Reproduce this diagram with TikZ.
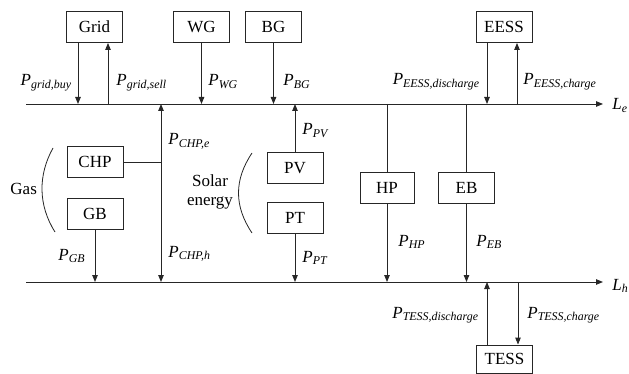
\documentclass[tikz,border=0pt]{standalone}
\usepackage{fontspec}
\setmainfont{Liberation Serif}
\usetikzlibrary{arrows.meta}
\tikzset{
  unit/.style={draw, minimum width=56pt, minimum height=31pt, inner sep=0pt},
  flow/.style={inner sep=0pt, font=\fontsize{17}{15}\selectfont\itshape},
}
\newcommand{\Pfl}[1]{P\textsubscript{#1}}

\begin{document}
\begin{tikzpicture}[x=1pt,y=-1pt,line width=0.9pt,draw=black!85,
    >={Triangle[length=7pt,width=5.5pt]},font=\fontsize{17}{15}\selectfont]
    \useasboundingbox (0,0) rectangle (629,374);
    %Buses
    \coordinate (le0) at (26,104);
    \coordinate (le1) at (603,104);
    \coordinate (lh0) at (26,282);
    \coordinate (lh1) at (603,282);
    \draw [->] (le0) -- (le1);
    \draw [->] (lh0) -- (lh1);
    \node (le) [flow, anchor=base west] at (612,110) {L\textsubscript{e}};
    \node (lh) [flow, anchor=base west] at (612,290) {L\textsubscript{h}};

    %Units
    \node (grid) [unit] at (94.5,27) {Grid};
    \node (wg) [unit] at (201.5,27) {WG};
    \node (bg) [unit] at (273.5,27) {BG};
    \node (eess) [unit] at (504,27) {EESS};
    \node (chp) [unit] at (95,162) {CHP};
    \node (gb) [unit] at (95,213.5) {GB};
    \node (pv) [unit] at (295,168) {PV};
    \node (pt) [unit] at (295,218) {PT};
    \node (hp) [unit, minimum width=54pt] at (387,188) {HP};
    \node (eb) [unit] at (466.5,188) {EB};
    \node (tess) [unit, minimum height=28pt] at (504.5,359) {TESS};

    %Fuels
    \node (gas) [anchor=base west, inner sep=0pt] at (10,195) {Gas};
    \node (solar) [anchor=base, inner sep=0pt] at (210,187) {Solar};
    \node (energy) [anchor=base, inner sep=0pt] at (210,206) {energy};
    \draw [line width=0.8pt] (53,148) .. controls (38,175) and (38,205) .. (55,232);
    \draw [line width=0.8pt] (252,153) .. controls (234,180) and (234,206) .. (252,233);

    %Electric side
    \coordinate (buy) at ([xshift=-16.5pt]grid.south);
    \coordinate (sell) at ([xshift=13.5pt]grid.south);
    \draw [->] (buy) -- (buy |- le0);
    \draw [->] (sell |- le0) -- (sell);
    \draw [->] (wg.south) -- (wg.south |- le0);
    \draw [->] (bg.south) -- (bg.south |- le0);
    \coordinate (edis) at ([xshift=-17pt]eess.south);
    \coordinate (ech) at ([xshift=13pt]eess.south);
    \draw [->] (edis) -- (edis |- le0);
    \draw [->] (ech |- le0) -- (ech);
    \draw [->] (pv.north) -- (pv.north |- le0);

    %CHP
    \coordinate (chpe) at (161,104);
    \coordinate (chph) at (161,282);
    \draw [<->] (chpe) -- (chph);
    \draw (chp.east) -- (chp.east -| chpe);

    %Heat side
    \draw [->] (gb.south) -- (gb.south |- lh0);
    \draw [->] (pt.south) -- (pt.south |- lh0);
    \draw (hp.north |- le0) -- (hp.north);
    \draw [->] (hp.south) -- (hp.south |- lh0);
    \draw (eb.north |- le0) -- (eb.north);
    \draw [->] (eb.south) -- (eb.south |- lh0);
    \coordinate (tdis) at ([xshift=-17.5pt]tess.north);
    \coordinate (tch) at ([xshift=13.5pt]tess.north);
    \draw [->] (tdis) -- (tdis |- lh0);
    \draw [->] (tch |- lh0) -- (tch);

    %Labels
    \node (pbuy) [flow, anchor=base east] at (72,86) {\Pfl{grid,buy}};
    \node (psell) [flow, anchor=base west] at (116,86) {\Pfl{grid,sell}};
    \node (pwg) [flow, anchor=base west] at (208,86) {\Pfl{WG}};
    \node (pbg) [flow, anchor=base west] at (283,86) {\Pfl{BG}};
    \node (pedis) [flow, anchor=base east] at (480,85) {\Pfl{EESS,discharge}};
    \node (pech) [flow, anchor=base west] at (523,85) {\Pfl{EESS,charge}};
    \node (pchpe) [flow, anchor=base west] at (168,145) {\Pfl{CHP,e}};
    \node (ppv) [flow, anchor=base west] at (302,135) {\Pfl{PV}};
    \node (pchph) [flow, anchor=base west] at (168,257) {\Pfl{CHP,h}};
    \node (pgb) [flow, anchor=base west] at (58,260) {\Pfl{GB}};
    \node (ppt) [flow, anchor=base west] at (302,262) {\Pfl{PT}};
    \node (php) [flow, anchor=base west] at (398,246) {\Pfl{HP}};
    \node (peb) [flow, anchor=base west] at (476,246) {\Pfl{EB}};
    \node (ptdis) [flow, anchor=base east] at (479,318) {\Pfl{TESS,discharge}};
    \node (ptch) [flow, anchor=base west] at (527,318) {\Pfl{TESS,charge}};
\end{tikzpicture}
\end{document}
